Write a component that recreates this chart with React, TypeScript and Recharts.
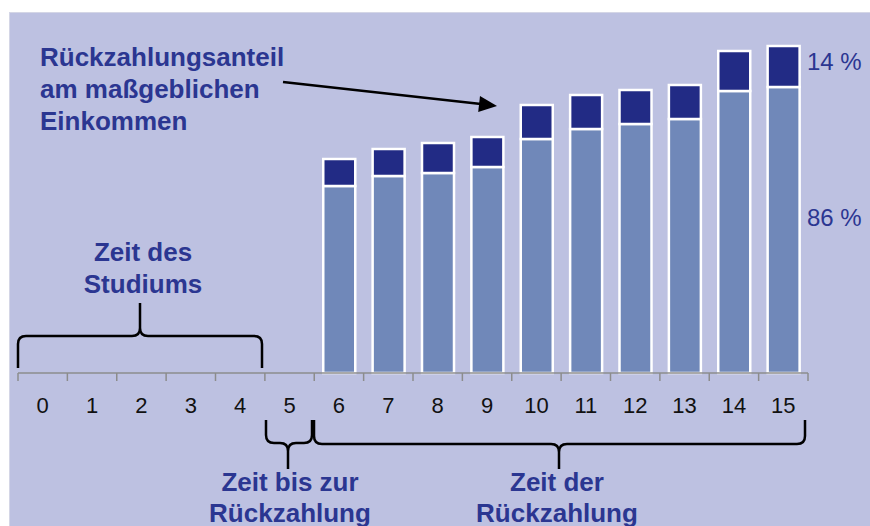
import React from "react";
import { BarChart, Bar, XAxis, YAxis } from "recharts";

// Jahre seit Studienbeginn
const jahre = ["0", "1", "2", "3", "4", "5", "6", "7", "8", "9", "10", "11", "12", "13", "14", "15"];
// 86 % Anteil (verbleibendes Einkommen)
const anteil86 = [null, null, null, null, null, null, 187, 197, 200, 206, 234, 244, 249, 254, 282, 286];
// 14 % Anteil (Rückzahlung)
const anteil14 = [null, null, null, null, null, null, 27, 27, 30, 30, 34, 34, 34, 34, 40, 41];

const W = 870;
const H = 526;
const PLOT_L = 18;
const PLOT_R = 808;
const PLOT_T = 13;
const PLOT_B = 373;
const BAND = (PLOT_R - PLOT_L) / jahre.length;

const BG = "#bdc1e1";
const HELL = "#7088b9";
const DUNKEL = "#222b85";
const BLAU = "#2b3691";
const FONT = "'Liberation Sans', Arial, sans-serif";

const data = jahre.map((j, i) => ({ jahr: j, unten: anteil86[i], oben: anteil14[i] }));

const AchsenTick = ({ x, y, payload, index }: any) => (
  <g>
    <line x1={x - BAND / 2} y1={y} x2={x - BAND / 2} y2={y + 8} stroke="#8c8c8c" strokeWidth={1.5} />
    {index === jahre.length - 1 && (
      <line x1={x + BAND / 2} y1={y} x2={x + BAND / 2} y2={y + 8} stroke="#8c8c8c" strokeWidth={1.5} />
    )}
    <text x={x} y={y + 40} textAnchor="middle" fontSize={22} fill="#111" fontFamily={FONT}>
      {payload.value}
    </text>
  </g>
);

// geschweifte Klammer, Enden bei yEnd, Spitze bei yTip
const klammer = (x1: number, x2: number, yEnd: number, yMid: number, yTip: number, xTip: number) => {
  const r = 8;
  const e = yEnd > yMid ? r : -r;
  const s = yTip > yMid ? r : -r;
  return [
    `M${x1},${yEnd} L${x1},${yMid + e} Q${x1},${yMid} ${x1 + r},${yMid}`,
    `L${xTip - r},${yMid} Q${xTip},${yMid} ${xTip},${yMid + s} L${xTip},${yTip}`,
    `M${xTip},${yMid + s} Q${xTip},${yMid} ${xTip + r},${yMid}`,
    `L${x2 - r},${yMid} Q${x2},${yMid} ${x2},${yMid + e} L${x2},${yEnd}`,
  ].join(" ");
};

const Beschriftung = () => (
  <svg width={W} height={H} style={{ position: "absolute", left: 0, top: 0, pointerEvents: "none" }}>
    <g fontFamily={FONT} fontWeight="bold" fontSize={26} fill={BLAU}>
      <text x={40} y={66}>Rückzahlungsanteil</text>
      <text x={40} y={98}>am maßgeblichen</text>
      <text x={40} y={130}>Einkommen</text>
      <text x={143} y={261} textAnchor="middle">Zeit des</text>
      <text x={143} y={293} textAnchor="middle">Studiums</text>
      <text x={290} y={491} textAnchor="middle">Zeit bis zur</text>
      <text x={290} y={522} textAnchor="middle">Rückzahlung</text>
      <text x={557} y={491} textAnchor="middle">Zeit der</text>
      <text x={557} y={522} textAnchor="middle">Rückzahlung</text>
    </g>
    <g fontFamily={FONT} fontSize={24} fill={BLAU}>
      <text x={807} y={70}>14 %</text>
      <text x={807} y={226}>86 %</text>
    </g>
    <line x1={283} y1={82} x2={481} y2={104} stroke="#000" strokeWidth={2.5} />
    <polygon points="497,106 478.2,112 480,96" fill="#000" />
    <g fill="none" stroke="#000" strokeWidth={2.5}>
      <path d={klammer(18, 262, 368, 336, 303, 140)} />
      <path d={klammer(266, 312, 420, 443, 469, 288)} />
      <path d={klammer(314, 805, 420, 444, 469, 559)} />
    </g>
  </svg>
);

export default function App() {
  return (
    <div style={{ position: "fixed", left: 0, top: 0, width: W, height: H, background: "#fff", overflow: "hidden" }}>
      <div
        style={{
          position: "absolute",
          left: 9,
          top: 12,
          right: 0,
          bottom: 0,
          background: BG,
          borderTop: "1px solid #d4d6e6",
          borderLeft: "1px solid #d4d6e6",
        }}
      />
      <div style={{ position: "absolute", left: 0, top: 0 }}>
        <BarChart
          width={W}
          height={H}
          data={data}
          margin={{ top: PLOT_T, right: W - PLOT_R, left: PLOT_L, bottom: H - PLOT_B - 30 }}
          barSize={32}
        >
          <XAxis
            dataKey="jahr"
            height={30}
            interval={0}
            tickLine={false}
            tickSize={0}
            tickMargin={0}
            axisLine={{ stroke: "#8c8c8c", strokeWidth: 1.5 }}
            tick={<AchsenTick />}
          />
          <YAxis hide width={0} domain={[0, PLOT_B - PLOT_T]} />
          <Bar dataKey="unten" stackId="a" fill={HELL} stroke="#fff" strokeWidth={2.5} isAnimationActive={false} />
          <Bar dataKey="oben" stackId="a" fill={DUNKEL} stroke="#fff" strokeWidth={2.5} isAnimationActive={false} />
        </BarChart>
      </div>
      <Beschriftung />
    </div>
  );
}
